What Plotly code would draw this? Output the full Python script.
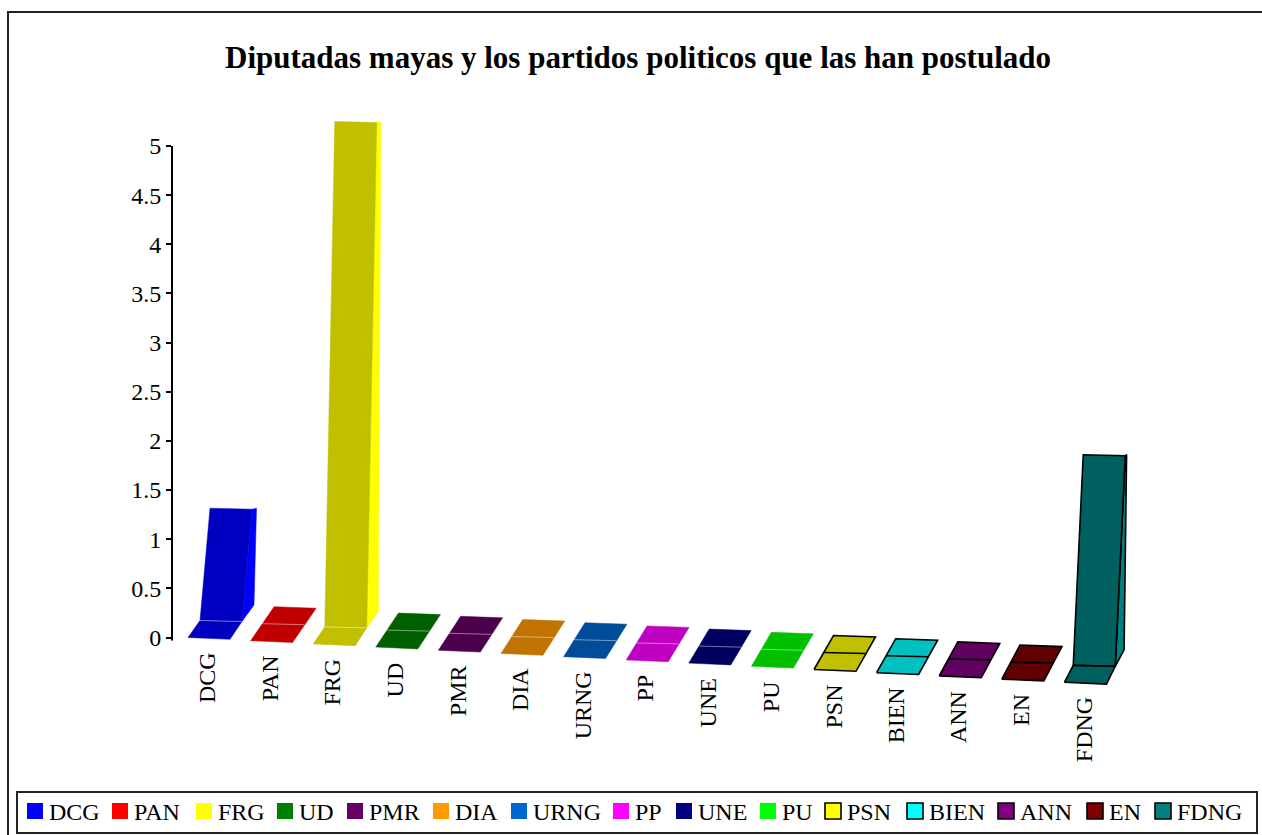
import plotly.graph_objects as go

# ---------------- data ----------------
categories = ["DCG", "PAN", "FRG", "UD", "PMR", "DIA", "URNG", "PP", "UNE", "PU",
              "PSN", "BIEN", "ANN", "EN", "FDNG"]
diputadas = [1, 0, 5, 0, 0, 0, 0, 0, 0, 0, 0, 0, 0, 0, 2]
y_tick_values = [0, 0.5, 1, 1.5, 2, 2.5, 3, 3.5, 4, 4.5, 5]
y_tick_labels = ["0", "0.5", "1", "1.5", "2", "2.5", "3", "3.5", "4", "4.5", "5"]
title_text = "Diputadas mayas y los partidos politicos que las han postulado"

# ---------------- styles ----------------
legend_colors = ["#0000FF", "#FF0000", "#FFFF00", "#008000", "#660066", "#FF9900", "#0066CC",
                 "#FF00FF", "#000080", "#00FF00", "#FFFF00", "#00FFFF", "#800080", "#800000", "#008080"]
face_colors = ["#0000C0", "#C00000", "#C0C000", "#006000", "#4C004C", "#C07300", "#004C99",
               "#C000C0", "#000060", "#00C000", "#C0C000", "#00C0C0", "#600060", "#600000", "#006060"]
outlined = [False] * 10 + [True] * 5
legend_square_x = [27, 112, 196, 277, 347, 433, 511, 613, 676, 760, 825, 907, 998, 1087, 1155]

FONT = "Times New Roman, Liberation Serif, serif"
W, H = 1262, 835
X0PX, XSTEP = 207.0, 62.6      # pixel of category 0, pixels per category
Y0PX, YUNIT = 637.5, 98.3      # pixel of value 0, pixels per unit
AXIS_X = 172.0
DROP = 3.2                      # floor drop per category (px)
LIFT = 14.0                     # perspective lift of bar tops (px)
LEAN = 10.0                     # lean of the bar fronts (px)


def P(i, v, ox, oy):
    """category index / value plus pixel offsets -> data coordinates"""
    return (i + ox / XSTEP, v - oy / YUNIT)


fig = go.Figure()


def poly(pts, fill, outline):
    xs = [p[0] for p in pts] + [pts[0][0]]
    ys = [p[1] for p in pts] + [pts[0][1]]
    fig.add_trace(go.Scatter(
        x=xs, y=ys, mode="lines", fill="toself", fillcolor=fill,
        line=dict(color="black" if outline else fill, width=1.6 if outline else 0.5),
        hoverinfo="skip", showlegend=False))


def seg(a, b, outline):
    fig.add_trace(go.Scatter(
        x=[a[0], b[0]], y=[a[1], b[1]], mode="lines",
        line=dict(color="black" if outline else "rgba(255,255,255,0.45)",
                  width=1.6 if outline else 1),
        hoverinfo="skip", showlegend=False))


for i, (cat, val) in enumerate(zip(categories, diputadas)):
    d = 24 - 0.45 * i
    dr = DROP * i
    FL = P(i, 0, -19, dr)
    FR = P(i, 0, 23, dr + 1.8)
    ML = P(i, 0, -19 + d / 2, dr - 17)
    MR = P(i, 0, 23 + d / 2, dr - 16)
    BL = P(i, 0, -19 + d, dr - 34)
    BR = P(i, 0, 23 + d, dr - 32.5)
    col = face_colors[i]
    side = legend_colors[i]
    ol = outlined[i]
    if val == 0:
        poly([FL, FR, BR, BL], col, ol)
        seg(ML, MR, ol)
    else:
        top = val + LIFT / YUNIT
        poly([FL, FR, MR, ML], col, ol)
        TL = (ML[0] + LEAN / XSTEP, ML[1] + top)
        TR = (MR[0] + LEAN / XSTEP, MR[1] + top)
        poly([MR, BR, (BR[0] + 2.5 / XSTEP, TR[1] + 1 / YUNIT), TR], side, ol)
        poly([ML, MR, TR, TL], col, ol)
        seg(ML, MR, ol)
    # category label
    fig.add_annotation(x=i, y=-(dr + 13) / YUNIT, xref="x", yref="y", text=cat,
                       textangle=-90, showarrow=False, xanchor="center", yanchor="top",
                       font=dict(family=FONT, size=24, color="black"))

shapes = []
# y axis line
shapes.append(dict(type="line", xref="paper", yref="y", x0=AXIS_X / W, x1=AXIS_X / W,
                   y0=-0.03, y1=5, line=dict(color="black", width=2)))
# outer frame
shapes.append(dict(type="rect", xref="paper", yref="paper", x0=8 / W, x1=1.02,
                   y0=-0.02, y1=1 - 12 / H, line=dict(color="#222", width=2)))
# legend box
shapes.append(dict(type="rect", xref="paper", yref="paper", x0=17 / W, x1=1257 / W,
                   y0=1 - 833 / H, y1=1 - 792 / H, line=dict(color="#222", width=2)))

for i, cat in enumerate(categories):
    sx = legend_square_x[i]
    shapes.append(dict(type="rect", xref="paper", yref="paper",
                       x0=sx / W, x1=(sx + 16) / W, y0=1 - 819 / H, y1=1 - 803 / H,
                       fillcolor=legend_colors[i],
                       line=dict(color="black" if outlined[i] else legend_colors[i],
                                 width=1.6 if outlined[i] else 0)))
    fig.add_annotation(x=(sx + 20) / W, y=1 - 812 / H, xref="paper", yref="paper",
                       text=cat, showarrow=False, xanchor="left", yanchor="middle",
                       font=dict(family=FONT, size=24, color="black"))

fig.add_annotation(x=638 / W, y=1 - 57 / H, xref="paper", yref="paper",
                   text="<b>" + title_text + "</b>", showarrow=False,
                   xanchor="center", yanchor="middle",
                   font=dict(family=FONT, size=31, color="black"))

fig.update_layout(
    width=W, height=H, autosize=False,
    margin=dict(l=0, r=0, t=0, b=0),
    paper_bgcolor="white", plot_bgcolor="rgba(0,0,0,0)",
    shapes=shapes, showlegend=False,
    xaxis=dict(domain=[AXIS_X / W, 1], range=[(AXIS_X - X0PX) / XSTEP, (W - X0PX) / XSTEP],
               visible=False, fixedrange=True),
    yaxis=dict(domain=[0, 1], range=[(Y0PX - H) / YUNIT, Y0PX / YUNIT],
               tickvals=y_tick_values, ticktext=y_tick_labels,
               ticks="outside", ticklen=5, tickwidth=1.5, tickcolor="black",
               showgrid=False, zeroline=False, showline=False,
               tickfont=dict(family=FONT, size=24, color="black"), fixedrange=True),
)

fig.write_html("out.html")
